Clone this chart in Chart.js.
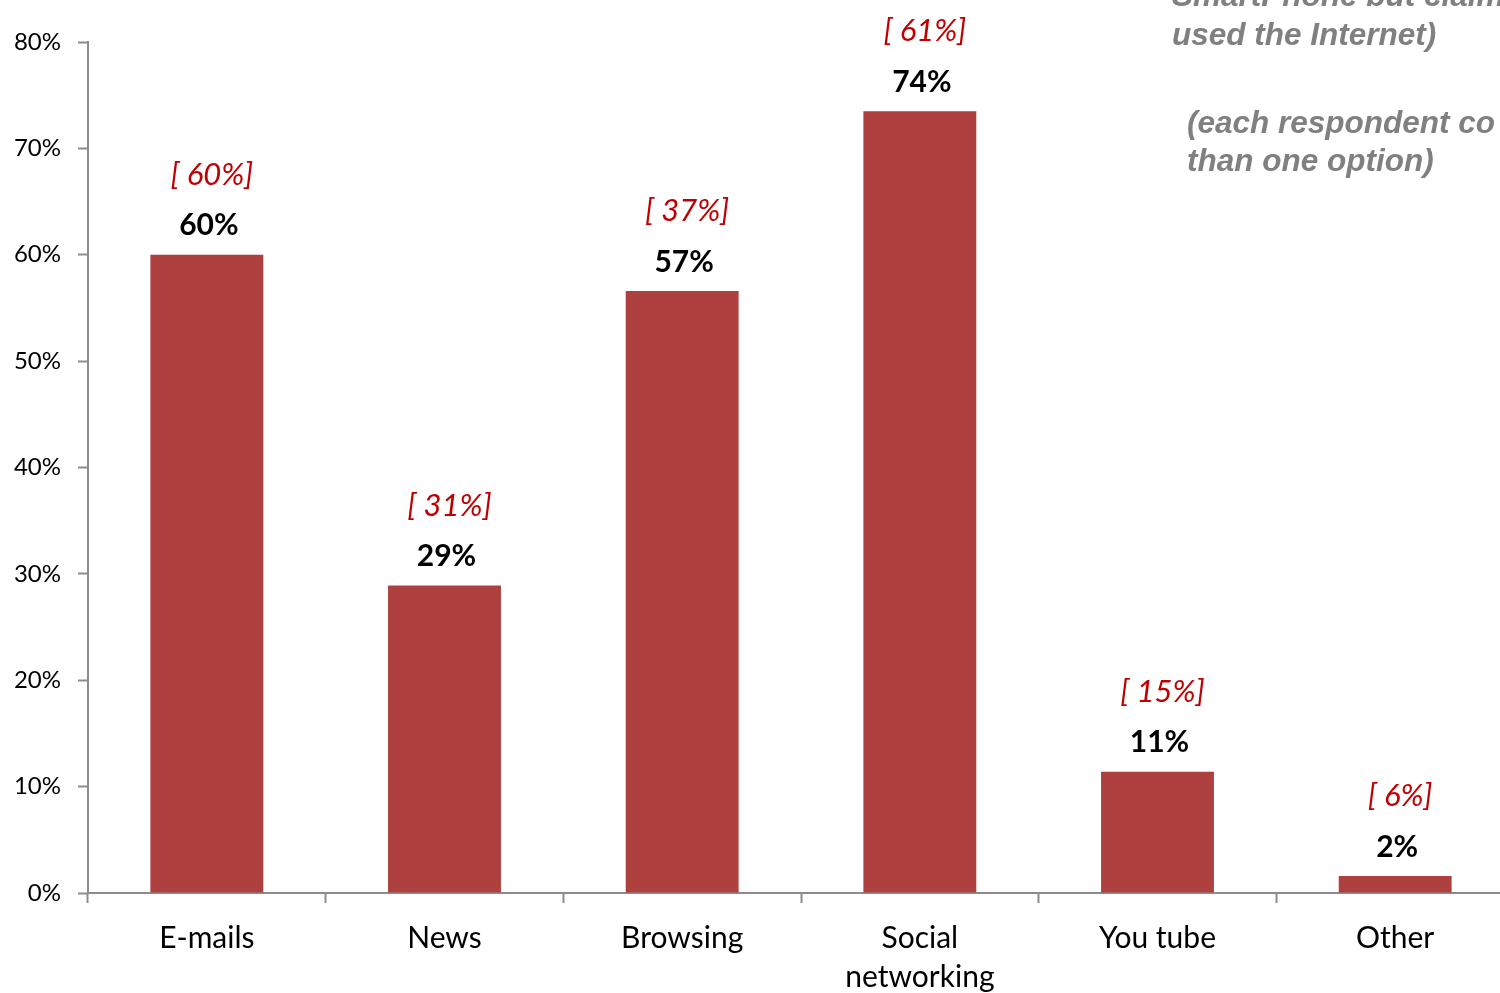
<!DOCTYPE html>
<html>
<head>
<meta charset="utf-8">
<script src="https://cdn.jsdelivr.net/npm/chart.js@4"></script>
<style>
  html, body { margin: 0; padding: 0; background: #fff; overflow: hidden; }
  #wrap { width: 1530px; height: 993px; }
</style>
</head>
<body>
<div id="wrap"><canvas id="myChart" width="1530" height="993"></canvas></div>
<script>
    // Nutzung des Smartphones
    const categories = ['E-mails', 'News', 'Browsing', ['Social', 'networking'], 'You tube', 'Other'];
    const values = [60, 28.9, 56.6, 73.5, 11.4, 1.6];
    const previousValues = [60, 31, 37, 61, 15, 6];
    const yTicks = [0, 10, 20, 30, 40, 50, 60, 70, 80];
    const noteLines = ['SmartPhone but claim', 'used the Internet)', '(each respondent co', 'than one option)'];

    // Beschriftungen ueber den Balken + Hinweistext oben rechts
    const labelPlugin = {
        id: 'barLabels',
        afterDatasetsDraw(chart) {
            const ctx = chart.ctx;
            const meta = chart.getDatasetMeta(0);
            ctx.save();
            ctx.textAlign = 'center';
            ctx.textBaseline = 'middle';
            meta.data.forEach((bar, i) => {
                ctx.fillStyle = '#000';
                ctx.font = 'bold 30px Lato';
                ctx.fillText(Math.round(values[i]) + '%', bar.x + 2, bar.y - 29);
                ctx.fillStyle = '#c00000';
                ctx.font = 'italic 31px Lato';
                ctx.fillText('[ ' + previousValues[i] + '%]', bar.x + 5, bar.y - 80);
            });
            ctx.textAlign = 'left';
            ctx.fillStyle = '#808080';
            ctx.font = 'italic bold 31.5px "Liberation Sans"';
            const noteX = [1172, 1172, 1187, 1187];
            const noteY = [-3, 36, 124, 162];
            noteLines.forEach((line, i) => {
                ctx.fillText(line, noteX[i], noteY[i]);
            });
            ctx.restore();
        }
    };

    var ctx = document.getElementById('myChart').getContext('2d');
    var myChart = new Chart(ctx, {
        type: 'bar',
        data: {
            labels: categories,
            datasets: [{
                data: values,
                backgroundColor: 'rgb(174, 65, 63)',
                barPercentage: 0.475,
                categoryPercentage: 1.0
            }]
        },
        options: {
            responsive: false,
            animation: false,
            layout: { padding: { top: 42, right: 16, left: 0, bottom: 0 } },
            plugins: {
                legend: { display: false },
                tooltip: { enabled: false }
            },
            scales: {
                x: {
                    afterFit(scale) { scale.height = 100; },
                    border: { color: '#8c8c8c', width: 2 },
                    grid: {
                        offset: true,
                        drawOnChartArea: false,
                        tickLength: 10,
                        tickWidth: 2,
                        color: '#8c8c8c'
                    },
                    ticks: {
                        color: '#000',
                        padding: 16,
                        font: { family: 'Lato', size: 30, lineHeight: 1.3 }
                    }
                },
                y: {
                    min: 0,
                    max: 80,
                    afterFit(scale) { scale.width = 88; },
                    afterBuildTicks(scale) {
                        scale.ticks = yTicks.map(v => ({ value: v }));
                    },
                    border: { color: '#8c8c8c', width: 2 },
                    grid: {
                        drawOnChartArea: false,
                        tickLength: 10,
                        tickWidth: 2,
                        color: '#8c8c8c'
                    },
                    ticks: {
                        color: '#000',
                        padding: 17,
                        font: { family: 'Lato', size: 24 },
                        callback: v => v + '%'
                    }
                }
            }
        },
        plugins: [labelPlugin]
    });
</script>
</body>
</html>
